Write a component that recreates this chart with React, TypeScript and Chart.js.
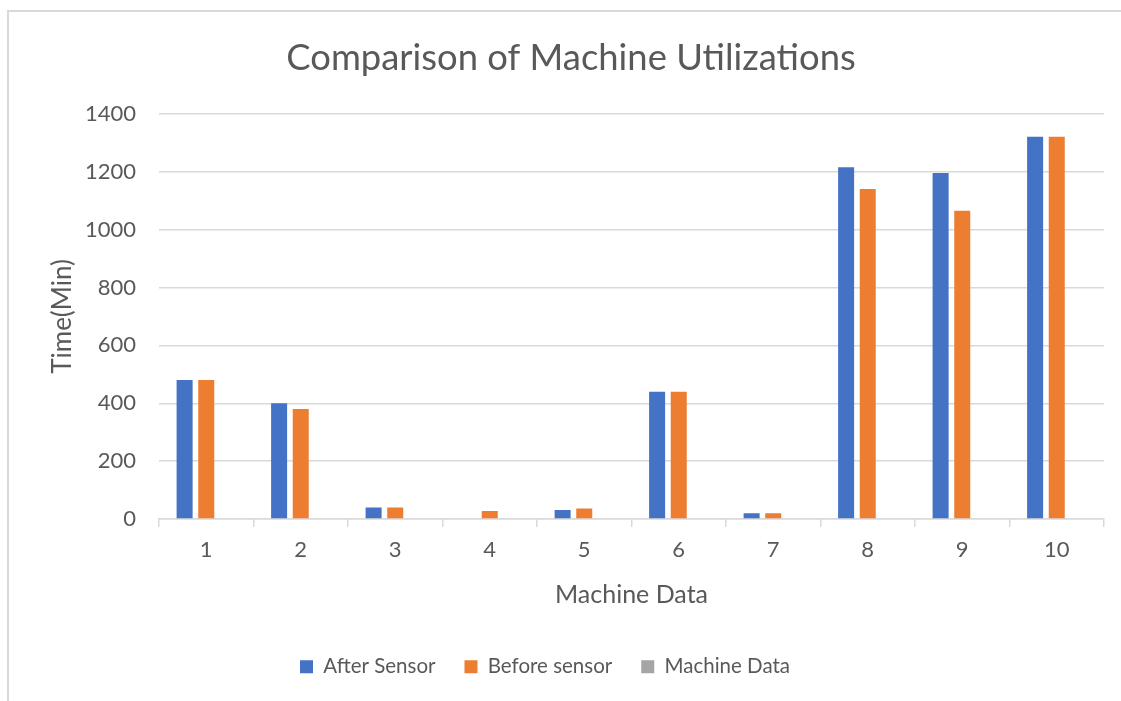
import React, { useEffect, useRef } from 'react';
import { Chart, registerables } from 'chart.js';

Chart.register(...registerables);

const categories = ['1', '2', '3', '4', '5', '6', '7', '8', '9', '10'];
const afterSensor = [480, 400, 40, 0, 31, 440, 20, 1215, 1195, 1320];
const beforeSensor = [480, 380, 40, 28, 37, 440, 20, 1140, 1065, 1320];
const machineData = [0, 0, 0, 0, 0, 0, 0, 0, 0, 0];
const yMin = 0;
const yMax = 1400;
const yStep = 200;

const FONT = 'Lato, "Open Sans", sans-serif';
const TEXT = '#595959';
const GRID = '#d9d9d9';

// Excel centres the title over the whole frame and the legend slightly left of centre
const blockShift = {
  id: 'blockShift',
  afterLayout(chart: any) {
    if (chart.titleBlock) {
      chart.titleBlock.left += 38;
    }
    if (chart.legend) {
      chart.legend.left -= 7;
      chart.legend.right -= 7;
    }
  },
};

export default function App() {
  const ref = useRef<HTMLCanvasElement>(null);

  useEffect(() => {
    if (!ref.current) return;
    const chart = new Chart(ref.current, {
      type: 'bar',
      data: {
        labels: categories,
        datasets: [
          { label: 'After Sensor', data: afterSensor, backgroundColor: '#4472C4', borderWidth: 0, categoryPercentage: 0.687, barPercentage: 0.74 },
          { label: 'Before sensor', data: beforeSensor, backgroundColor: '#ED7D31', borderWidth: 0, categoryPercentage: 0.687, barPercentage: 0.74 },
          { label: 'Machine Data', data: machineData, backgroundColor: '#A5A5A5', borderWidth: 0, categoryPercentage: 0.687, barPercentage: 0.74 },
        ],
      },
      plugins: [blockShift],
      options: {
        animation: false,
        responsive: false,
        maintainAspectRatio: false,
        layout: { padding: { left: 0, right: 17, top: 0, bottom: 14 } },
        plugins: {
          title: {
            display: true,
            text: 'Comparison of Machine Utilizations',
            color: TEXT,
            font: { family: FONT, size: 36.4, weight: 'normal' },
            padding: { top: 36, bottom: 34 },
          },
          legend: {
            position: 'bottom',
            labels: {
              boxWidth: 13,
              boxHeight: 13,
              color: TEXT,
              font: { family: FONT, size: 20.5 },
              padding: 29,
            },
          },
          tooltip: { enabled: false },
        },
        scales: {
          x: {
            grid: { offset: true, drawOnChartArea: false, drawTicks: true, tickLength: 8, color: GRID, lineWidth: 1.5 },
            border: { display: true, color: GRID, width: 1.5 },
            ticks: { color: TEXT, font: { family: FONT, size: 22 }, padding: 10 },
            title: { display: true, text: 'Machine Data', color: TEXT, font: { family: FONT, size: 25 }, padding: { top: 6, bottom: 18 } },
          },
          y: {
            min: yMin,
            max: yMax,
            afterFit: (s: any) => { s.width = 159; },
            ticks: { stepSize: yStep, color: TEXT, font: { family: FONT, size: 22 }, padding: 23, callback: (v: any) => String(v) },
            grid: { drawTicks: false, color: GRID, lineWidth: 1.5 },
            border: { display: false },
            title: { display: true, text: 'Time(Min)', color: TEXT, font: { family: FONT, size: 26 }, padding: { top: 47, bottom: 0 } },
          },
        },
      },
    } as any);
    return () => chart.destroy();
  }, []);

  return (
    <div style={{ position: 'fixed', left: 0, top: 0, width: 1121, height: 701, overflow: 'hidden', background: '#fff' }}>
      <div style={{ position: 'absolute', left: 7, top: 10, width: 1200, height: 800, borderTop: `2px solid ${GRID}`, borderLeft: `2px solid ${GRID}` }} />
      <canvas ref={ref} width={1121} height={701} style={{ position: 'absolute', left: 0, top: 0, display: 'block' }} />
    </div>
  );
}
